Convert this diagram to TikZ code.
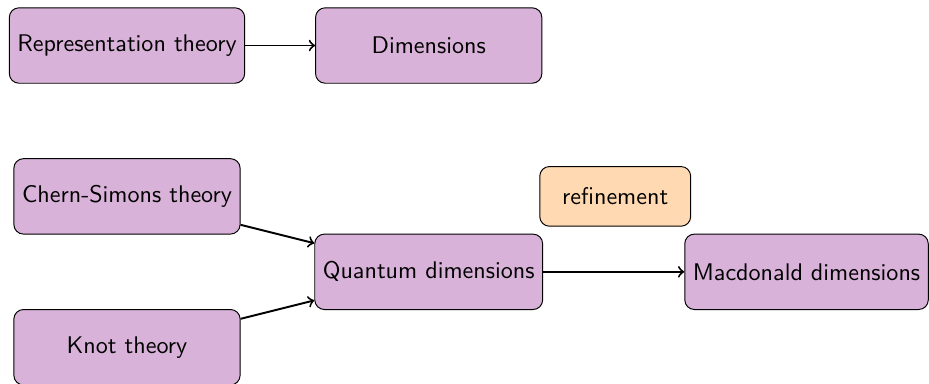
\documentclass[tikz,border=0pt]{standalone}
\usepackage{tikz}
\usetikzlibrary{shapes,arrows,positioning}

\begin{document}
\begin{tikzpicture}[
                every node/.style={
                        rectangle,
                        rounded corners,
                        draw,
                        minimum width=3.3cm,
                        minimum height=1.1cm,
                        align=center,
                        font=\sffamily,
                        fill=violet!30
                    }
            ]

            % Área da figura
            \useasboundingbox (-1.852, 0.664) rectangle (11.696, -4.922);

            % Nós principais posicionados manualmente
            \node (rep) at (0, 0) {Representation theory};
            \node (dim) at (4.4, 0) {Dimensions};
            \node (cs) at (0, -2.2) {Chern-Simons theory};
            \node (knot) at (0, -4.4) {Knot theory};
            \node (qdim) at (4.4, -3.3) {Quantum dimensions};
            \node (macd) at (9.91, -3.3) {Macdonald dimensions};
            \node[fill=orange!30, minimum width=2.2cm, minimum height=0.87cm] (refin) at (7.12, -2.2) {refinement};

            % Setas
            \draw[->, thick] (rep) -- (dim);
            \draw[->, thick] (cs) -- (qdim);
            \draw[->, thick] (knot) -- (qdim);
            \draw[->, thick] (qdim) -- (macd);

        \end{tikzpicture}
\end{document}
